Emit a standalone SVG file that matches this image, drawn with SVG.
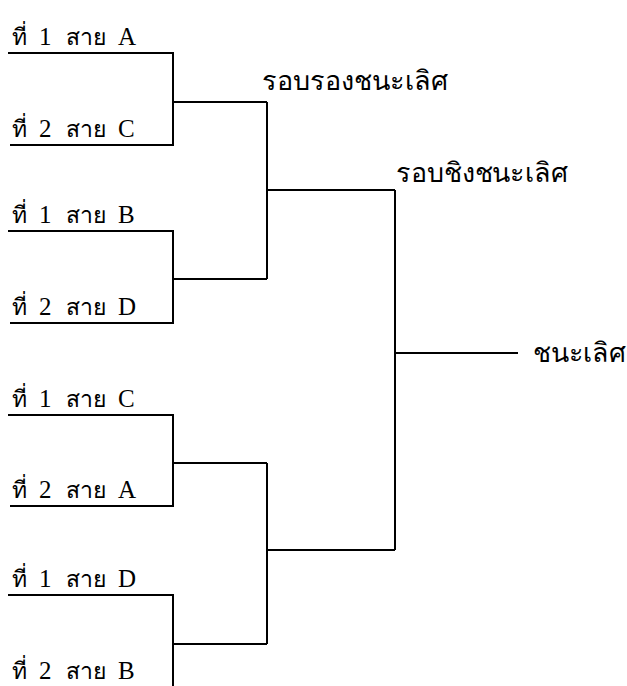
<svg xmlns="http://www.w3.org/2000/svg" width="627" height="686" viewBox="0 0 627 686">
<style>
.t{font-family:"Liberation Serif","Times New Roman",serif;font-size:23px;fill:#000}
.t .l{font-size:25px}
.h{font-family:"Liberation Serif","Times New Roman",serif;font-size:27px;fill:#000}
.c{fill:none;stroke:#000;stroke-width:2}
</style>
<rect width="627" height="686" fill="#fff"/>
<g id="e1"><text class="t" y="45"><tspan x="12">ที่</tspan><tspan class="l" x="39">1</tspan><tspan x="66">สาย</tspan><tspan class="l" x="118">A</tspan></text></g>
<g id="e2"><text class="t" y="137"><tspan x="12">ที่</tspan><tspan class="l" x="39">2</tspan><tspan x="66">สาย</tspan><tspan class="l" x="118">C</tspan></text></g>
<g id="e3"><text class="t" y="223"><tspan x="12">ที่</tspan><tspan class="l" x="39">1</tspan><tspan x="66">สาย</tspan><tspan class="l" x="118">B</tspan></text></g>
<g id="e4"><text class="t" y="315"><tspan x="12">ที่</tspan><tspan class="l" x="39">2</tspan><tspan x="66">สาย</tspan><tspan class="l" x="118">D</tspan></text></g>
<g id="e5"><text class="t" y="407"><tspan x="12">ที่</tspan><tspan class="l" x="39">1</tspan><tspan x="66">สาย</tspan><tspan class="l" x="118">C</tspan></text></g>
<g id="e6"><text class="t" y="498"><tspan x="12">ที่</tspan><tspan class="l" x="39">2</tspan><tspan x="66">สาย</tspan><tspan class="l" x="118">A</tspan></text></g>
<g id="e7"><text class="t" y="587"><tspan x="12">ที่</tspan><tspan class="l" x="39">1</tspan><tspan x="66">สาย</tspan><tspan class="l" x="118">D</tspan></text></g>
<g id="e8"><text class="t" y="679"><tspan x="12">ที่</tspan><tspan class="l" x="39">2</tspan><tspan x="66">สาย</tspan><tspan class="l" x="118">B</tspan></text></g>
<g id="semi"><text class="h" x="262" y="90" textLength="186" lengthAdjust="spacingAndGlyphs">รอบรองชนะเลิศ</text></g>
<g id="final"><text class="h" x="396" y="182" textLength="172" lengthAdjust="spacingAndGlyphs">รอบชิงชนะเลิศ</text></g>
<g id="winner"><text class="h" x="533" y="362" textLength="93" lengthAdjust="spacingAndGlyphs">ชนะเลิศ</text></g>
<g id="connectors">
<path class="c" d="M8 53H173V145H10M173 102H267"/>
<path class="c" d="M8 231H173V323H10M173 279H267"/>
<path class="c" d="M8 415H173V506H10M173 463H267"/>
<path class="c" d="M8 595H173V687H10M173 644H267"/>
<path class="c" d="M267 102V279M267 190H395"/>
<path class="c" d="M267 463V644M267 550H395"/>
<path class="c" d="M395 190V550M395 353H518"/>
</g>
</svg>
